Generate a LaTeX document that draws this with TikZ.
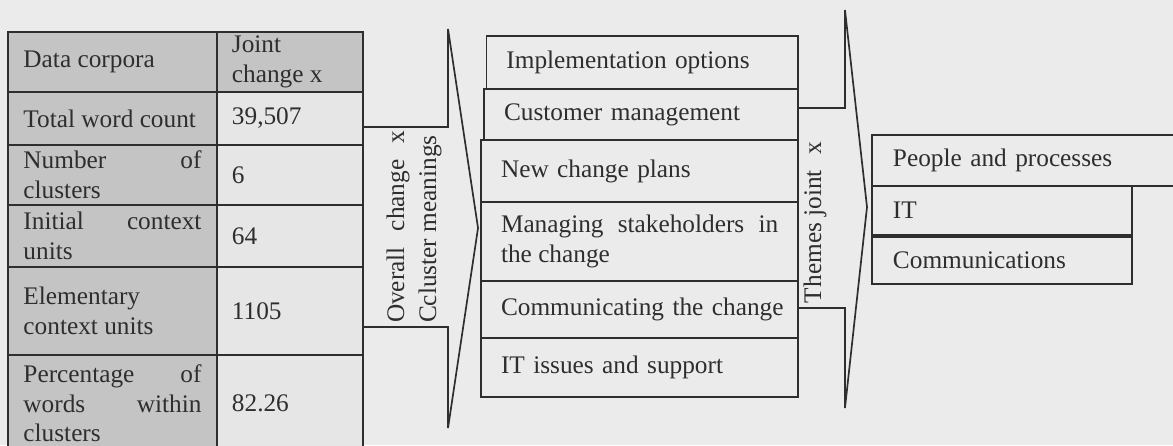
\documentclass[tikz,border=0pt]{standalone}
\usepackage{fontspec}
\setmainfont{Liberation Serif}
\hyphenpenalty=10000
\tolerance=10000
\hbadness=10000
\definecolor{paper}{HTML}{EBEBEB}
\definecolor{shade}{HTML}{C4C4C4}
\definecolor{cellbg}{HTML}{E6E6E6}
\definecolor{ink}{HTML}{2E2E2E}
\begin{document}
\begin{tikzpicture}[
    font=\fontsize{12}{14}\selectfont,
    every node/.style={outer sep=0pt, text=ink},
    cell/.style={draw=ink, line width=0.8pt, anchor=north west, inner ysep=0pt, align=justify},
    keycell/.style={cell, fill=shade, text width=2.967cm, inner xsep=0.258cm},
    valcell/.style={cell, fill=cellbg, text width=1.933cm, inner xsep=0.25cm},
    item/.style={draw=ink, line width=0.8pt, anchor=north east, inner xsep=0.33cm, inner ysep=0pt, text width=4.62cm, align=left},
    theme/.style={draw=ink, line width=0.8pt, anchor=north west, inner xsep=0.35cm, inner ysep=0pt, align=left},
    bigarrow/.style={draw=ink, line width=0.8pt, line join=miter}
]
\useasboundingbox (0,0) rectangle (19.55,-7.417);
\fill[paper] (0,0) rectangle (19.55,-7.417);

\node[keycell, minimum height=1cm] (corpora) at (0.133,-0.533) {Data corpora};
\node[valcell, fill=shade, minimum height=1cm] (joint) at (corpora.north east) {Joint\\change x};
\node[keycell, minimum height=0.883cm] (words) at (corpora.south west) {Total word count};
\node[valcell, minimum height=0.883cm] (wordsval) at (words.north east) {39,507};
\node[keycell, minimum height=1cm] (clusters) at (words.south west) {Number of\linebreak clusters};
\node[valcell, minimum height=1cm] (clustersval) at (clusters.north east) {6};
\node[keycell, minimum height=1.033cm] (initial) at (clusters.south west) {Initial context\linebreak units};
\node[valcell, minimum height=1.033cm] (initialval) at (initial.north east) {64};
\node[keycell, minimum height=1.467cm] (elementary) at (initial.south west) {Elementary\linebreak context units};
\node[valcell, minimum height=1.467cm] (elementaryval) at (elementary.north east) {1105};
\node[keycell, minimum height=1.617cm] (percentage) at (elementary.south west) {Percentage of\linebreak words within\linebreak clusters};
\node[valcell, minimum height=1.617cm] (percentageval) at (percentage.north east) {82.26};

\draw[bigarrow] (6.05,-2.117) -- (7.467,-2.117) -- (7.467,-0.483) -- (7.967,-3.8)
    -- (7.467,-7.133) -- (7.467,-5.45) -- (6.05,-5.45);
\node[rotate=90, text width=3.2cm, align=justify, inner sep=0pt,
    font=\fontsize{12}{15.2}\selectfont] (overall) at (6.9,-3.783)
    {Overall change x\linebreak Ccluster meanings};

\node[item, minimum height=0.883cm, text width=4.53cm] (options) at (13.3,-0.6) {Implementation options};
\node[item, minimum height=0.85cm, text width=4.57cm] (customers) at (options.south east) {Customer management};
\node[item, minimum height=1.033cm] (plans) at (customers.south east) {New change plans};
\node[item, minimum height=1.317cm, align=justify] (stakeholders) at (plans.south east) {Managing stakeholders in\linebreak the change};
\node[item, minimum height=0.95cm] (communicating) at (stakeholders.south east) {\mbox{Communicating the change}};
\node[item, minimum height=0.983cm] (support) at (communicating.south east) {IT issues and support};

\draw[bigarrow] (13.3,-1.8) -- (14.083,-1.8) -- (14.083,-0.167) -- (14.45,-3.45)
    -- (14.083,-6.8) -- (14.083,-5.133) -- (13.3,-5.133);
\node[rotate=90, anchor=west, inner sep=0pt] (themes) at (13.583,-5.05) {Themes joint\hspace{0.6em}x};

\node[theme, minimum height=0.85cm, text width=4.6cm] (people) at (14.533,-2.25) {People and processes};
\node[theme, minimum height=0.817cm, text width=3.633cm] (it) at (people.south west) {IT};
\node[theme, minimum height=0.783cm, text width=3.633cm] (comms) at ([yshift=-0.033cm]it.south west) {Communications};
\end{tikzpicture}
\end{document}
